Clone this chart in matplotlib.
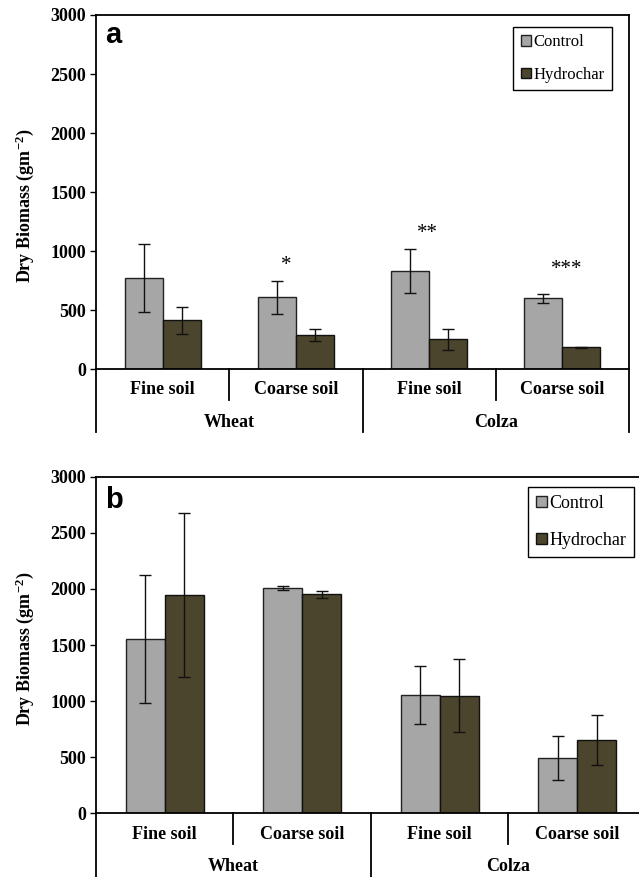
import matplotlib
matplotlib.use("Agg")
import matplotlib.pyplot as plt
from matplotlib.patches import Patch
import numpy as np

plt.rcParams["mathtext.fontset"] = "custom"
plt.rcParams["mathtext.rm"] = "Liberation Serif:bold"
plt.rcParams["mathtext.bf"] = "Liberation Serif:bold"
plt.rcParams["mathtext.default"] = "bf"

# categories
soils = ["Fine soil", "Coarse soil", "Fine soil", "Coarse soil"]
crops = ["Wheat", "Colza"]
series = ["Control", "Hydrochar"]

# panel a values (g m-2)
a_control = [774, 607, 833, 599]
a_control_err = [287, 143, 186, 38]
a_hydro = [412, 288, 251, 184]
a_hydro_err = [116, 48, 90, 3]
a_stars = ["", "*", "**", "***"]
a_star_y = [0, 880, 1150, 840]
a_star_dx = [0, -0.07, -0.015, 0.035]

# panel b values (g m-2)
b_control = [1553, 2008, 1054, 490]
b_control_err = [570, 17, 256, 196]
b_hydro = [1943, 1952, 1048, 653]
b_hydro_err = [731, 33, 327, 220]

c_control = "#a6a6a6"
c_hydro = "#4a452c"
serif = "Liberation Serif"

fig = plt.figure(figsize=(6.39, 8.77), dpi=100)


def panel(rect, letter, ctrl, ctrl_err, hyd, hyd_err, cfg):
    ax = fig.add_axes(rect)
    x = np.arange(len(soils)) + 0.5
    w = 0.285
    ax.bar(x - w / 2, ctrl, w, color=c_control, edgecolor="#222222", linewidth=1.0, zorder=2)
    ax.bar(x + w / 2, hyd, w, color=c_hydro, edgecolor="#111111", linewidth=1.0, zorder=2)
    ax.errorbar(x - w / 2, ctrl, yerr=ctrl_err, fmt="none", ecolor="#111111",
                elinewidth=1.0, capsize=4, capthick=1.0, zorder=3)
    ax.errorbar(x + w / 2, hyd, yerr=hyd_err, fmt="none", ecolor="#111111",
                elinewidth=1.0, capsize=4, capthick=1.0, zorder=3)
    ax.set_xlim(0, 4)
    ax.set_ylim(0, 3000)
    ax.set_yticks(np.arange(0, 3001, 500))
    ax.set_yticklabels([str(v) for v in range(0, 3001, 500)],
                       fontfamily=serif, fontweight="bold", fontsize=13)
    ax.tick_params(axis="y", direction="out", length=4, width=1, pad=3)
    ax.set_xticks([])
    for s in ax.spines.values():
        s.set_linewidth(1.3)
        s.set_color("black")
    ax.set_ylabel("Dry Biomass (gm$^{-2}$)", fontfamily=serif, fontweight="bold", fontsize=13)
    ax.yaxis.set_label_coords(cfg["ylab_x"], cfg["ylab_y"])

    trans = ax.transAxes
    # lines of the two-level category axis
    for xd in [1, 3]:
        ax.plot([xd / 4, xd / 4], [0, cfg["short"]], color="black", lw=1.3,
                transform=trans, clip_on=False)
    for xd in [0, 2, 4]:
        ax.plot([xd / 4, xd / 4], [0, cfg["long"]], color="black", lw=1.3,
                transform=trans, clip_on=False)
    for i, s in enumerate(soils):
        ax.text((i + 0.5) / 4, cfg["soil_y"], s, transform=trans, ha="center", va="center",
                fontfamily=serif, fontweight="bold", fontsize=13)
    for i, c in enumerate(crops):
        ax.text((2 * i + 1) / 4, cfg["crop_y"], c, transform=trans, ha="center", va="center",
                fontfamily=serif, fontweight="bold", fontsize=13)

    ax.text(0.017, cfg["letter_y"], letter, transform=trans, ha="left", va="baseline",
            fontfamily="Liberation Sans", fontweight="bold", fontsize=21)

    handles = [Patch(facecolor=c_control, edgecolor="#222222", lw=1.0),
               Patch(facecolor=c_hydro, edgecolor="#111111", lw=1.0)]
    leg = ax.legend(handles, series, loc="upper right", bbox_to_anchor=cfg["leg_anchor"],
                    prop={"family": serif, "size": cfg["leg_size"]},
                    fancybox=False, edgecolor="black", framealpha=1,
                    handlelength=0.6, handleheight=0.6, handletextpad=0.15,
                    labelspacing=cfg["leg_space"], borderpad=0.45, borderaxespad=0)
    leg.get_frame().set_linewidth(1.0)
    return ax, x


ax_a, xa = panel([0.1502, 0.5792, 0.8342, 0.4037], "a",
                 a_control, a_control_err, a_hydro, a_hydro_err,
                 dict(ylab_x=-0.112, ylab_y=0.46, short=-0.0876, long=-0.178,
                      soil_y=-0.059, crop_y=-0.150, letter_y=0.921,
                      leg_anchor=(0.968, 0.967), leg_size=12, leg_space=1.0))
for xi, st, sy, dx in zip(xa, a_stars, a_star_y, a_star_dx):
    if st:
        ax_a.text(xi + dx, sy, st, ha="center", va="center", fontfamily=serif, fontsize=15)

ax_b, xb = panel([0.1502, 0.0726, 0.8607, 0.3838], "b",
                 b_control, b_control_err, b_hydro, b_hydro_err,
                 dict(ylab_x=-0.109, ylab_y=0.49, short=-0.092, long=-0.20,
                      soil_y=-0.064, crop_y=-0.159, letter_y=0.906,
                      leg_anchor=(0.979, 0.970), leg_size=13, leg_space=1.1))

fig.savefig("out.png", dpi=100)
